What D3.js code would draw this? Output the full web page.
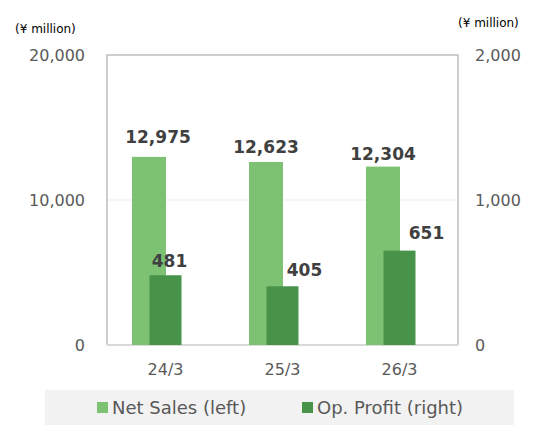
<!DOCTYPE html>
<html lang="en">
  <head>
    <meta charset="UTF-8">
    <title>Net Sales / Op. Profit</title>
    <script src="https://d3js.org/d3.v7.min.js"></script>
    <style>
      body { margin: 0; background: #fff; }
      text { font-family: "DejaVu Sans", Verdana, sans-serif; }
    </style>
  </head>
  <body>
    <svg id="chart" width="560" height="437"></svg>
    <script>
    // data
    var periods = ["24/3", "25/3", "26/3"];
    var netSales = [12975, 12623, 12304];
    var opProfit = [481, 405, 651];
    var leftTicks = [0, 10000, 20000];
    var rightTicks = [0, 1000, 2000];
    var seriesNames = ["Net Sales (left)", "Op. Profit (right)"];

    // hand-placed label nudges (as in the original)
    var netNudge = [[9, -14], [0, -9], [0, -7]];
    var opNudge = [[4, -8], [22, -10], [27, -12]];

    function draw() {
      var colNet = "#7dc273", colOp = "#48934a";
      var svg = d3.select("#chart");
      var pl = 107, pr = 458, pt = 55, pb = 345;

      var x = d3.scaleBand().domain(periods).range([pl, pr]);
      var yL = d3.scaleLinear().domain([0, 20000]).range([pb, pt]);
      var yR = d3.scaleLinear().domain([0, 2000]).range([pb, pt]);
      var fmt = d3.format(",");

      // gridline
      svg.append("g").selectAll("line").data(leftTicks.slice(1, -1)).enter().append("line")
        .attr("x1", pl).attr("x2", pr)
        .attr("y1", d => yL(d)).attr("y2", d => yL(d))
        .style("stroke", "#ebebeb");

      // plot frame
      svg.append("path")
        .attr("d", "M" + pl + "," + pb + "V" + pt + "H" + pr + "V" + pb)
        .style("fill", "none").style("stroke", "#bfbfbf").style("stroke-width", 1.5);
      svg.append("line")
        .attr("x1", pl).attr("x2", pr).attr("y1", pb).attr("y2", pb)
        .style("stroke", "#d9d9d9").style("stroke-width", 2);

      var cx = d => x(d) + x.bandwidth() / 2;

      svg.append("g").selectAll("rect").data(periods).enter().append("rect")
        .attr("x", d => cx(d) - 33.5).attr("width", 34)
        .attr("y", (d, i) => yL(netSales[i]))
        .attr("height", (d, i) => pb - yL(netSales[i]))
        .style("fill", colNet);

      svg.append("g").selectAll("rect").data(periods).enter().append("rect")
        .attr("x", d => cx(d) - 16).attr("width", 32)
        .attr("y", (d, i) => yR(opProfit[i]))
        .attr("height", (d, i) => pb - yR(opProfit[i]))
        .style("fill", colOp);

      // data labels
      svg.append("g").selectAll("text").data(periods).enter().append("text")
        .attr("x", (d, i) => cx(d) - 16.5 + netNudge[i][0])
        .attr("y", (d, i) => yL(netSales[i]) + netNudge[i][1])
        .attr("text-anchor", "middle")
        .style("font-size", "17px").style("font-weight", "bold").style("fill", "#404040")
        .text((d, i) => fmt(netSales[i]));

      svg.append("g").selectAll("text").data(periods).enter().append("text")
        .attr("x", (d, i) => cx(d) + opNudge[i][0])
        .attr("y", (d, i) => yR(opProfit[i]) + opNudge[i][1])
        .attr("text-anchor", "middle")
        .style("font-size", "17px").style("font-weight", "bold").style("fill", "#404040")
        .text((d, i) => fmt(opProfit[i]));

      // axes
      var axL = svg.append("g").attr("transform", "translate(" + (pl - 22) + ",0)")
        .call(d3.axisLeft(yL).tickValues(leftTicks).tickFormat(fmt).tickSize(0).tickPadding(0));
      var axR = svg.append("g").attr("transform", "translate(" + (pr + 17) + ",0)")
        .call(d3.axisRight(yR).tickValues(rightTicks).tickFormat(fmt).tickSize(0).tickPadding(0));
      var axB = svg.append("g").attr("transform", "translate(0," + (pb + 19) + ")")
        .call(d3.axisBottom(x).tickSize(0).tickPadding(0));
      [axL, axR, axB].forEach(function(a) {
        a.select(".domain").remove();
        a.selectAll("text").style("font-size", "16px").style("fill", "#595959")
          .style("font-family", "DejaVu Sans");
      });
      axL.selectAll("text").attr("dy", "0.36em");
      axR.selectAll("text").attr("dy", "0.36em");

      // unit labels
      svg.append("text").attr("x", 15).attr("y", 33).text("(¥ million)")
        .style("font-size", "12px").style("fill", "#000");
      svg.append("text").attr("x", 458).attr("y", 27).text("(¥ million)")
        .style("font-size", "12px").style("fill", "#000");

      // legend
      svg.append("rect").attr("x", 45).attr("y", 390).attr("width", 469).attr("height", 35)
        .style("fill", "#f2f2f2");
      var lg = svg.append("g").selectAll("g").data(seriesNames).enter().append("g")
        .attr("transform", (d, i) => "translate(" + (i ? 302 : 97) + ",0)");
      lg.append("rect").attr("x", 0).attr("y", 402).attr("width", 11).attr("height", 11)
        .style("fill", (d, i) => i ? colOp : colNet);
      lg.append("text").attr("x", 15).attr("y", 414).text(d => d)
        .style("font-size", "18px").style("fill", "#595959");
    }
    draw();
    </script>
  </body>
</html>
